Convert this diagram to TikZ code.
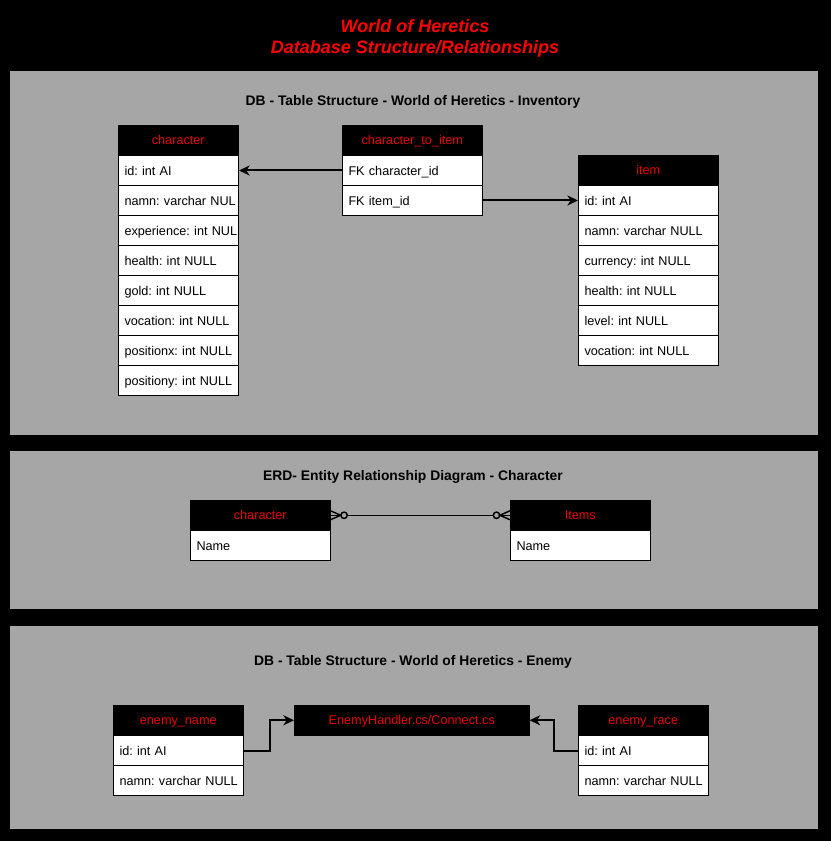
\documentclass[tikz,border=0pt]{standalone}
\usepackage{fontspec}
\setmainfont{Liberation Sans}
\usetikzlibrary{arrows.meta,calc}
\definecolor{panelgray}{RGB}{166,166,166}
\definecolor{hred}{RGB}{230,0,0}
\frenchspacing
\tikzset{
  every node/.style={font=\frenchspacing\fontsize{9.5}{11}\selectfont},
  panel/.style={fill=panelgray, draw=none},
  ptitle/.style={font=\bfseries\fontsize{10.4}{12}\selectfont, text=black},
  hdr/.style={draw=black, fill=black, text=hred, anchor=north west, inner sep=0pt,
    minimum height=22.5pt, text height=7pt, text depth=0pt},
  cell/.style={draw=black, line width=0.75pt, fill=white, anchor=north west, inner xsep=4.5pt, inner ysep=0pt,
    minimum height=22.5pt, align=left, text height=7pt, text depth=0pt, text width=#1},
  conn/.style={draw=black, line width=1.5pt},
  arr/.style={conn, -{Stealth[length=8pt,width=7.5pt,inset=2.5pt]}},
  erd/.style={draw=black, line width=1.1pt},
}
\begin{document}
\begin{tikzpicture}[x=0.75pt,y=-0.75pt]
\fill[black] (0,0) rectangle (831,841);
\useasboundingbox (0,0) rectangle (831,841);
% title
\node[text=red, font=\bfseries\itshape\fontsize{13.5}{15.75}\selectfont, align=center] (title) at (415,38.5)
  {World of Heretics\\Database Structure/Relationships};
% panels
\path[panel] (9.5,71) rectangle (818,435);
\path[panel] (10,451) rectangle (818,609);
\path[panel] (10,626) rectangle (818,829);
\node[ptitle] (p1t) at (413,101.5) {DB - Table Structure - World of Heretics - Inventory};
\node[ptitle] (p2t) at (413,476.5) {ERD- Entity Relationship Diagram - Character};
\node[ptitle] (p3t) at (413,661.5) {DB - Table Structure - World of Heretics - Enemy};

% character table
\node[hdr, minimum width=90pt] (ch) at (118,125) {character};
\node[cell=81pt] (c1) at (118,155) {\mbox{id: int AI}};
\node[cell=81pt] (c2) at (118,185) {\mbox{namn: varchar NUL}};
\node[cell=81pt] (c3) at (118,215) {\mbox{experience: int NUL}};
\node[cell=81pt] (c4) at (118,245) {\mbox{health: int NULL}};
\node[cell=81pt] (c5) at (118,275) {\mbox{gold: int NULL}};
\node[cell=81pt] (c6) at (118,305) {\mbox{vocation: int NULL}};
\node[cell=81pt] (c7) at (118,335) {\mbox{positionx: int NULL}};
\node[cell=81pt] (c8) at (118,365) {\mbox{positiony: int NULL}};

% character_to_item
\node[hdr, minimum width=105pt] (ct) at (342,125) {character\_to\_item};
\node[cell=96pt] (ct1) at (342,155) {\mbox{FK character\_id}};
\node[cell=96pt] (ct2) at (342,185) {\mbox{FK item\_id}};

% item
\node[hdr, minimum width=105pt] (it) at (578,155) {item};
\node[cell=96pt] (i1) at (578,185) {\mbox{id: int AI}};
\node[cell=96pt] (i2) at (578,215) {\mbox{namn: varchar NULL}};
\node[cell=96pt] (i3) at (578,245) {\mbox{currency: int NULL}};
\node[cell=96pt] (i4) at (578,275) {\mbox{health: int NULL}};
\node[cell=96pt] (i5) at (578,305) {\mbox{level: int NULL}};
\node[cell=96pt] (i6) at (578,335) {\mbox{vocation: int NULL}};

\draw[arr] (ct1.west) -- (c1.east);
\draw[arr] (ct2.east) -- (i1.west);

% ERD
\node[hdr, minimum width=105pt] (ech) at (190,500) {character};
\node[cell=96pt] (ech1) at (190,530) {\mbox{Name}};
\node[hdr, minimum width=105pt] (eit) at (510,500) {Items};
\node[cell=96pt] (eit1) at (510,530) {\mbox{Name}};
\draw[erd] ($(ech.east)+(16.5,0)$) -- ($(eit.west)+(-16.5,0)$);
% crow's feet
\draw[erd] (ech.east) ++(0,-4.5) -- ++(10,4.5) -- ++(-10,4.5);
\draw[erd] (ech.east) -- ++(10,0);
\draw[erd] ($(ech.east)+(13.5,0)$) circle[radius=3.2];
\draw[erd] (eit.west) ++(0,-4.5) -- ++(-10,4.5) -- ++(10,4.5);
\draw[erd] (eit.west) -- ++(-10,0);
\draw[erd] ($(eit.west)+(-13.5,0)$) circle[radius=3.2];

% Enemy
\node[hdr, minimum width=97.5pt] (en) at (113,705) {enemy\_name};
\node[cell=88.5pt] (en1) at (113,735) {\mbox{id: int AI}};
\node[cell=88.5pt] (en2) at (113,765) {\mbox{namn: varchar NULL}};
\node[hdr, minimum width=176.25pt] (eh) at (294,705) {EnemyHandler.cs/Connect.cs};
\node[hdr, minimum width=97.5pt] (er) at (578,705) {enemy\_race};
\node[cell=88.5pt] (er1) at (578,735) {\mbox{id: int AI}};
\node[cell=88.5pt] (er2) at (578,765) {\mbox{namn: varchar NULL}};
\coordinate (bendA) at (270,720);
\coordinate (bendB) at (554,720);
\draw[arr] (en1.east) -- (en1.east -| bendA) |- (eh.west);
\draw[arr] (er1.west) -- (er1.west -| bendB) |- (eh.east);
\end{tikzpicture}
\end{document}
